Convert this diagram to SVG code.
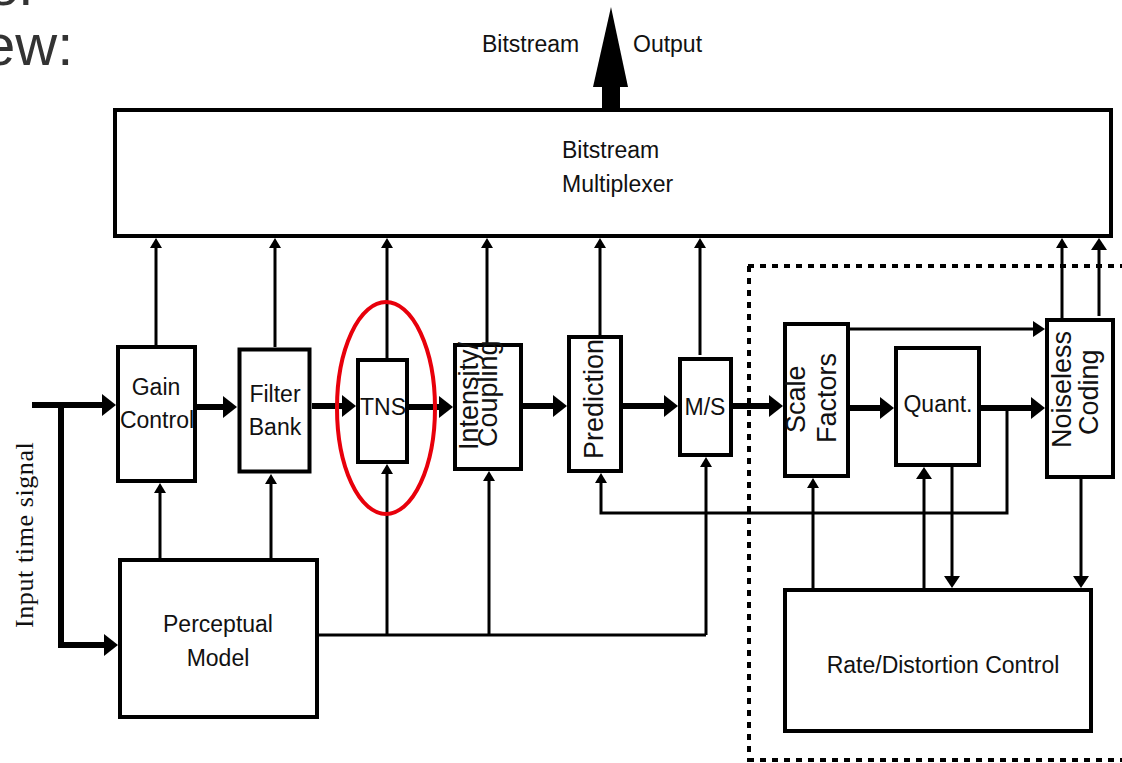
<svg xmlns="http://www.w3.org/2000/svg" width="1122" height="763" viewBox="0 0 1122 763">
<style>
.box{fill:#fff;stroke:#000;stroke-width:4}
.t{font-family:"Liberation Sans",Arial,sans-serif;font-size:23px;fill:#111}
.tc{text-anchor:middle}
.rt{font-family:"Liberation Sans",Arial,sans-serif;font-size:27px;fill:#111}
.c{fill:none;stroke:#000;stroke-width:3}
.main{stroke-width:6}
.dash{fill:none;stroke:#000;stroke-width:4;stroke-dasharray:6 6}
</style>
<defs>
<marker id="big" markerUnits="userSpaceOnUse" viewBox="0 0 14 22" markerWidth="14" markerHeight="22" refX="6" refY="11" orient="auto"><path d="M0,0 L14,11 L0,22 Z" fill="#000"/></marker>
<marker id="med" markerUnits="userSpaceOnUse" viewBox="0 0 12 16" markerWidth="12" markerHeight="16" refX="4" refY="8" orient="auto"><path d="M0,0 L12,8 L0,16 Z" fill="#000"/></marker>
<marker id="sm" markerUnits="userSpaceOnUse" viewBox="0 0 10 12" markerWidth="10" markerHeight="12" refX="4" refY="6" orient="auto"><path d="M0,0 L10,6 L0,12 Z" fill="#000"/></marker>
<clipPath id="predclip"><rect x="569" y="338" width="52" height="133"/></clipPath>
</defs>
<rect width="1122" height="763" fill="#fff"/>
<text x="-13" y="5" font-family="Liberation Sans, Arial, sans-serif" font-size="58" fill="#333">er</text>
<text x="-17" y="65" font-family="Liberation Sans, Arial, sans-serif" font-size="58" fill="#333">ew:</text>

<g id="output">
<polygon points="611,7 628,87 593,87" fill="#000"/>
<rect x="602" y="86" width="18" height="24" fill="#000"/>
<text class="t" x="482" y="52">Bitstream</text>
<text class="t" x="633" y="52">Output</text>
</g>

<g id="dashed-region">
<path class="dash" d="M748,266 H1122"/>
<path class="dash" d="M749,266 V762"/>
<path class="dash" d="M748,760 H1122"/>
</g>

<g id="connectors">
<path class="c main" d="M32,405 L108,405" marker-end="url(#big)"/>
<path class="c main" d="M61,405 V645 H110" marker-end="url(#big)"/>
<path class="c main" d="M197,407 L229,407" marker-end="url(#big)"/>
<path class="c main" d="M312,406 L348,406" marker-end="url(#big)"/>
<path class="c main" d="M409,407 L445,407" marker-end="url(#big)"/>
<path class="c main" d="M523,406 L559,406" marker-end="url(#big)"/>
<path class="c main" d="M623,406 L670,406" marker-end="url(#big)"/>
<path class="c main" d="M733,406 L775,406" marker-end="url(#big)"/>
<path class="c main" d="M850,408 L886,408" marker-end="url(#big)"/>
<path class="c main" d="M981,408 L1037,408" marker-end="url(#big)"/>

<path class="c" d="M156,345 V244" marker-end="url(#sm)"/>
<path class="c" d="M275,347 V244" marker-end="url(#sm)"/>
<path class="c" d="M387,358 V244" marker-end="url(#sm)"/>
<path class="c" d="M487,343 V244" stroke-width="5" marker-end="url(#sm)"/>
<path class="c" d="M600,335 V244" marker-end="url(#sm)"/>
<path class="c" d="M700,355 V244" marker-end="url(#sm)"/>
<path class="c" d="M1062,318 V244" marker-end="url(#sm)"/>
<path class="c" d="M1099,316 V246" stroke-width="6" marker-end="url(#med)"/>

<path class="c" d="M160,558 V489" marker-end="url(#sm)"/>
<path class="c" d="M271,558 V480" marker-end="url(#sm)"/>
<path class="c" d="M319,635 H706"/>
<path class="c" d="M387,635 V470" marker-end="url(#sm)"/>
<path class="c" d="M489,635 V477" marker-end="url(#sm)"/>
<path class="c" d="M706,635 V463" marker-end="url(#sm)"/>

<path class="c" d="M1007,408 V513 H601 V479" marker-end="url(#sm)"/>
<path class="c" d="M850,329 H1037" stroke-width="4" marker-end="url(#med)"/>
<path class="c" d="M813,588 V484" stroke-width="5" marker-end="url(#sm)"/>
<path class="c" d="M924,588 V475" marker-end="url(#med)"/>
<path class="c" d="M952,467 V580" marker-end="url(#med)"/>
<path class="c" d="M1081,479 V580" stroke-width="4" marker-end="url(#med)"/>
</g>

<g id="input-label">
<text transform="translate(33,628) rotate(-90)" font-family="Liberation Serif, Times New Roman, serif" font-size="26" letter-spacing="0.6" fill="#111">Input time signal</text>
</g>

<g id="mux">
<rect class="box" x="115" y="110" width="996" height="126"/>
<text class="t" x="562" y="158">Bitstream</text>
<text class="t" x="562" y="192">Multiplexer</text>
</g>

<g id="gain">
<rect class="box" x="118" y="347" width="77" height="134"/>
<text class="t tc" x="156" y="395">Gain</text>
<text class="t tc" x="157" y="428">Control</text>
</g>

<g id="filterbank">
<rect class="box" x="239.5" y="349.5" width="70" height="122" stroke-width="5"/>
<text class="t tc" x="275" y="402">Filter</text>
<text class="t tc" x="275" y="435">Bank</text>
</g>

<g id="tns">
<rect class="box" x="358" y="360" width="49" height="102"/>
<text class="t tc" x="383" y="415">TNS</text>
</g>

<g id="intensity">
<rect class="box" x="455" y="345" width="66" height="124"/>
<text class="rt" font-size="26" transform="translate(478,450) rotate(-90)">Intensity/</text>
<text class="rt" font-size="26" transform="translate(497,447) rotate(-90)">Coupling</text>
</g>

<g id="prediction">
<rect class="box" x="569" y="337" width="52" height="134"/>
<g clip-path="url(#predclip)">
<text class="rt" font-size="28" transform="translate(603,459) rotate(-90)">Prediction</text>
</g>
</g>

<g id="ms">
<rect class="box" x="680" y="359" width="51" height="96"/>
<text class="t tc" x="705" y="415">M/S</text>
</g>

<g id="scalefactors">
<rect class="box" x="785" y="324" width="63" height="152"/>
<text class="rt" transform="translate(805,433) rotate(-90)">Scale</text>
<text class="rt" transform="translate(836,443) rotate(-90)">Factors</text>
</g>

<g id="quant">
<rect class="box" x="896" y="348" width="83" height="117"/>
<text class="t tc" x="938" y="412">Quant.</text>
</g>

<g id="noiseless">
<rect class="box" x="1047" y="320" width="66" height="157"/>
<text class="rt" transform="translate(1071,448) rotate(-90)">Noiseless</text>
<text class="rt" transform="translate(1098,435) rotate(-90)">Coding</text>
</g>

<g id="ratedistortion">
<rect class="box" x="785" y="590" width="306" height="141"/>
<text class="t tc" x="943" y="673">Rate/Distortion Control</text>
</g>

<g id="perceptual">
<rect class="box" x="120" y="560" width="197" height="157"/>
<text class="t tc" x="218" y="632">Perceptual</text>
<text class="t tc" x="218" y="666">Model</text>
</g>

<g id="highlight">
<ellipse cx="386" cy="408" rx="49" ry="106" fill="none" stroke="#e8000b" stroke-width="4"/>
</g>
</svg>
